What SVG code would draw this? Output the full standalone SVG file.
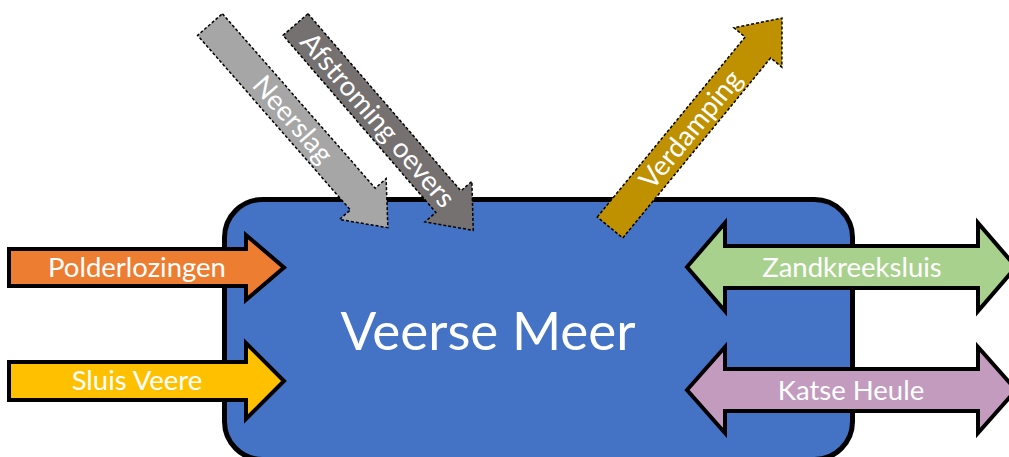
<svg xmlns="http://www.w3.org/2000/svg" width="1009" height="457" viewBox="0 0 1009 457">
<style>
.lbl{font-family:Lato,"Open Sans","Liberation Sans",sans-serif;font-size:27.5px;fill:#fff;text-anchor:middle}
.big{font-family:Lato,"Open Sans","Liberation Sans",sans-serif;font-size:53px;fill:#fff;text-anchor:middle}
.solid{stroke:#000;stroke-width:4;stroke-linejoin:miter}
.dash{stroke:#000;stroke-width:1.5;stroke-dasharray:3 2}
</style>
<rect width="1009" height="457" fill="#fff"/>
<g id="veerse-meer">
<rect x="224.5" y="199.5" width="628" height="260" rx="38" fill="#4472C4" stroke="#000" stroke-width="5"/>
<text class="big" x="488" y="350">Veerse Meer</text>
</g>
<g id="connectors">
<g id="polderlozingen">
<polygon class="solid" fill="#ED7D31" points="9,249 246,249 246,235 284,267.5 246,300 246,286 9,286"/>
<text class="lbl" x="137" y="277">Polderlozingen</text>
</g>
<g id="sluis-veere">
<polygon class="solid" fill="#FFC000" points="9,362 246,362 246,343 284,381 246,419 246,400 9,400"/>
<text class="lbl" x="137" y="390">Sluis Veere</text>
</g>
<g id="zandkreeksluis">
<polygon class="solid" fill="#A9D18E" points="687,267 725,223 725,246 978,246 978,223 1016,267 978,311 978,288 725,288 725,311"/>
<text class="lbl" x="852" y="277">Zandkreeksluis</text>
</g>
<g id="katse-heule">
<polygon class="solid" fill="#C39BBF" points="687,390 725,347 725,369 978,369 978,347 1016,390 978,433 978,411 725,411 725,433"/>
<text class="lbl" x="851" y="400">Katse Heule</text>
</g>
<g id="neerslag" transform="translate(210,24.5) rotate(48.8)">
<polygon class="dash" fill="#A6A6A6" points="0,-16.5 232,-16.5 232,-31 270,0 232,31 232,16.5 0,16.5"/>
<text class="lbl" x="126" y="9.5">Neerslag</text>
</g>
<g id="afstroming-oevers" transform="translate(295.5,24.5) rotate(49.2)">
<polygon class="dash" fill="#767171" points="0,-16.5 234,-16.5 234,-31 272,0 234,31 234,16.5 0,16.5"/>
<text class="lbl" x="126" y="9.5">Afstroming oevers</text>
</g>
<g id="verdamping" transform="translate(610,227.5) rotate(-50.6)">
<polygon class="dash" fill="#BF9000" points="0,-16.5 233,-16.5 233,-31 271,0 233,31 233,16.5 0,16.5"/>
<text class="lbl" x="127" y="9.5">Verdamping</text>
</g>
</g>
</svg>
